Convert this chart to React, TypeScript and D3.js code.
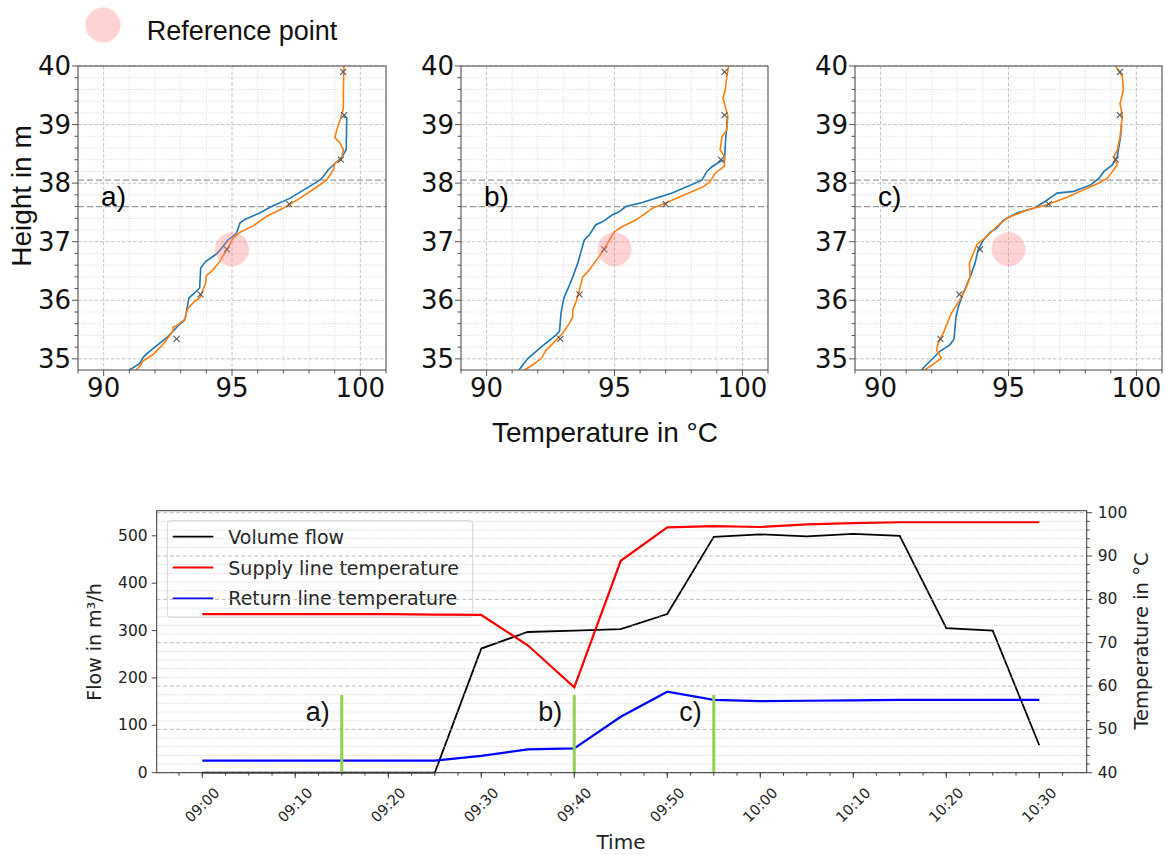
import React from 'react';
import * as d3 from 'd3';

// ---------- Top panels: temperature profiles (T in °C, height in m) ----------
const panelLabels = ['a)', 'b)', 'c)'];
const sensorHeights = [39.9, 39.16, 38.4, 37.64, 36.87, 36.1, 35.34];
const sensorTempsA = [99.33, 99.37, 99.24, 97.23, 94.8, 93.77, 92.84];
const sensorTempsB = [99.3, 99.3, 99.16, 97.0, 94.6, 93.63, 92.88];
const sensorTempsC = [99.36, 99.35, 99.19, 96.57, 93.89, 93.08, 92.34];
const referencePoint = { temp: 95, height: 36.87 };
const layerBoundaries = [38.05, 37.6];

const blueA: [number, number][] = [
  [91.0, 34.81], [91.4, 34.92], [91.55, 35.03], [91.66, 35.08], [92.5, 35.38], [92.96, 35.59],
  [93.15, 35.66], [93.19, 35.72], [93.32, 36.04], [93.42, 36.08], [93.67, 36.18], [93.74, 36.21],
  [93.78, 36.55], [93.97, 36.66], [94.39, 36.79], [94.58, 36.88], [94.84, 37.03], [95.17, 37.14],
  [95.31, 37.32], [95.5, 37.38], [96.08, 37.49], [96.54, 37.6], [97.25, 37.74], [98.42, 38.05],
  [98.55, 38.11], [98.75, 38.23], [98.95, 38.31], [99.27, 38.44], [99.45, 38.57], [99.47, 39.11],
  [99.34, 39.14],
];
const orangeA: [number, number][] = [
  [91.26, 34.81], [91.46, 34.9], [91.52, 34.96], [91.91, 35.07], [92.3, 35.24], [92.7, 35.47],
  [92.7, 35.54], [92.89, 35.58], [93.15, 35.67], [93.22, 35.78], [93.28, 35.86], [93.54, 35.98],
  [93.74, 36.04], [93.87, 36.18], [93.97, 36.29], [94.0, 36.42], [94.26, 36.52], [94.52, 36.66],
  [94.71, 36.8], [94.91, 36.95], [95.04, 37.06], [95.31, 37.16], [95.82, 37.27], [96.34, 37.43],
  [96.99, 37.57], [97.64, 37.74], [98.29, 37.93], [98.68, 38.05], [98.82, 38.14], [98.95, 38.23],
  [99.01, 38.34], [99.27, 38.42], [99.34, 38.57], [99.21, 38.68], [99.01, 38.78], [99.08, 38.91],
  [99.21, 39.08], [99.34, 39.28], [99.34, 39.59], [99.36, 40.0],
];
const blueB: [number, number][] = [
  [91.27, 34.81], [91.42, 34.9], [91.62, 35.01], [92.07, 35.18], [92.72, 35.41], [92.85, 35.47],
  [92.91, 35.78], [92.98, 35.95], [93.04, 36.06], [93.24, 36.26], [93.37, 36.4], [93.56, 36.63],
  [93.82, 37.03], [94.02, 37.12], [94.27, 37.29], [94.53, 37.34], [94.92, 37.46], [95.18, 37.51],
  [95.44, 37.6], [96.09, 37.67], [97.25, 37.83], [98.42, 38.05], [98.61, 38.2], [98.81, 38.28],
  [99.13, 38.37], [99.3, 38.4], [99.35, 38.79], [99.39, 38.96], [99.4, 39.1],
];
const orangeB: [number, number][] = [
  [91.49, 34.81], [91.81, 34.9], [92.14, 35.01], [92.33, 35.15], [92.72, 35.32], [92.98, 35.44],
  [93.24, 35.61], [93.37, 35.72], [93.37, 35.84], [93.5, 35.98], [93.63, 36.18], [93.76, 36.4],
  [94.02, 36.52], [94.4, 36.75], [94.66, 36.92], [94.99, 37.17], [95.31, 37.26], [95.83, 37.37],
  [96.48, 37.57], [97.0, 37.66], [97.9, 37.83], [98.48, 37.94], [98.74, 38.03], [98.94, 38.17],
  [99.3, 38.29], [99.3, 38.45], [99.13, 38.57], [99.2, 38.79], [99.39, 38.91], [99.43, 39.14],
  [99.33, 39.31], [99.24, 39.45], [99.33, 39.59], [99.39, 39.82], [99.46, 40.0],
];
const blueC: [number, number][] = [
  [91.6, 34.81], [91.79, 34.9], [92.32, 35.13], [92.71, 35.24], [92.87, 35.34], [92.95, 35.72],
  [93.04, 35.89], [93.23, 36.12], [93.5, 36.4], [93.69, 36.63], [93.82, 36.87], [94.02, 37.03],
  [94.28, 37.16], [94.54, 37.23], [94.8, 37.37], [95.33, 37.49], [95.98, 37.57], [96.37, 37.67],
  [96.9, 37.83], [97.55, 37.86], [98.21, 37.97], [98.53, 38.08], [98.73, 38.2], [99.06, 38.31],
  [99.25, 38.45], [99.38, 38.79], [99.42, 39.0],
];
const orangeC: [number, number][] = [
  [91.73, 34.81], [92.38, 35.01], [92.19, 35.15], [92.25, 35.27], [92.45, 35.44], [92.77, 35.78],
  [93.1, 36.01], [93.36, 36.23], [93.5, 36.4], [93.47, 36.63], [93.76, 36.95], [94.15, 37.09],
  [94.54, 37.26], [94.93, 37.4], [95.72, 37.54], [96.5, 37.63], [97.29, 37.76], [97.81, 37.86],
  [98.47, 37.99], [98.86, 38.08], [99.25, 38.31], [99.12, 38.45], [99.25, 38.57], [99.36, 38.79],
  [99.45, 39.14], [99.36, 39.36], [99.49, 39.59], [99.45, 39.82], [99.25, 39.96], [99.19, 40.0],
];
const tempTicks = [90, 95, 100];
const heightTicks = [35, 36, 37, 38, 39, 40];

// ---------- Bottom chart: time series ----------
const timeLabels = ['09:00', '09:05', '09:10', '09:15', '09:20', '09:25', '09:30', '09:35', '09:40', '09:45',
  '09:50', '09:55', '10:00', '10:05', '10:10', '10:15', '10:20', '10:25', '10:30'];
const volumeFlow = [0, 0, 0, 0, 0, 0, 262, 297, 300, 303, 335, 498, 503, 499, 504, 500, 305, 300, 58];
const supplyTemp = [76.6, 76.6, 76.6, 76.6, 76.6, 76.5, 76.4, 69.4, 59.7, 88.9, 96.6, 96.9, 96.7, 97.3, 97.6, 97.8, 97.8, 97.8, 97.8];
const returnTemp = [42.8, 42.8, 42.8, 42.8, 42.8, 42.8, 43.9, 45.4, 45.6, 52.9, 58.7, 56.8, 56.5, 56.6, 56.7, 56.8, 56.8, 56.8, 56.8];
const snapshotTimes = ['09:15', '09:40', '09:55'];
const snapshotMarkerHeight = 164;
const flowTicks = [0, 100, 200, 300, 400, 500];
const tempAxisTicks = [40, 50, 60, 70, 80, 90, 100];
const seriesNames = ['Volume flow', 'Supply line temperature', 'Return line temperature'];

const DEJAVU = "'DejaVu Sans', sans-serif";
const ARIAL = "'Liberation Sans', Arial, sans-serif";
const BLUE = '#1f77b4';
const ORANGE = '#ff7f0e';

type PanelProps = {
  idx: number; left: number; width: number; top: number; bottom: number;
  blue: [number, number][]; orange: [number, number][]; sensors: number[]; label: string;
};

function ProfilePanel({ idx, left, width, top, bottom, blue, orange, sensors, label }: PanelProps) {
  const x = d3.scaleLinear().domain([89, 101]).range([left, left + width]);
  const y = d3.scaleLinear().domain([34.81, 40]).range([bottom, top]);
  const line = d3.line<[number, number]>().x((d) => x(d[0])).y((d) => y(d[1]));
  const minorX = d3.range(89, 101.01, 1);
  const minorY = d3.range(35, 40.001, 0.2).map((v) => Math.round(v * 10) / 10);
  const clipId = `clip-panel-${idx}`;
  return (
    <g>
      <defs>
        <clipPath id={clipId}>
          <rect x={left} y={top} width={width} height={bottom - top} />
        </clipPath>
      </defs>
      {minorX.map((v) => (
        <line key={'gx' + v} x1={x(v)} x2={x(v)} y1={top} y2={bottom}
          stroke={tempTicks.includes(v) ? '#b5b5b5' : '#d0d0d0'} strokeWidth={0.8}
          strokeDasharray={tempTicks.includes(v) ? '3.5,2' : '1,1.5'} />
      ))}
      {minorY.map((v) => (
        <line key={'gy' + v} x1={left} x2={left + width} y1={y(v)} y2={y(v)}
          stroke={heightTicks.includes(v) ? '#b5b5b5' : '#d0d0d0'} strokeWidth={0.8}
          strokeDasharray={heightTicks.includes(v) ? '3.5,2' : '1,1.5'} />
      ))}
      {layerBoundaries.map((h) => (
        <line key={'lb' + h} x1={left} x2={left + width} y1={y(h)} y2={y(h)}
          stroke="#9a9a9a" strokeWidth={1.2} strokeDasharray="6,3" />
      ))}
      <g clipPath={`url(#${clipId})`}>
        <path d={line(blue) || ''} fill="none" stroke={BLUE} strokeWidth={1.6} />
        <path d={line(orange) || ''} fill="none" stroke={ORANGE} strokeWidth={1.6} />
        {sensors.map((t, i) => {
          const cx = x(t), cy = y(sensorHeights[i]);
          return (
            <g key={'s' + i} stroke="#555" strokeWidth={1.1}>
              <line x1={cx - 3} x2={cx + 3} y1={cy - 3} y2={cy + 3} />
              <line x1={cx - 3} x2={cx + 3} y1={cy + 3} y2={cy - 3} />
            </g>
          );
        })}
        <circle cx={x(referencePoint.temp)} cy={y(referencePoint.height)} r={17}
          fill="rgb(255,120,120)" fillOpacity={0.33} />
      </g>
      <text x={x(89.9)} y={y(37.77)} fontFamily={ARIAL} fontSize={28} dominantBaseline="central">{label}</text>
      <rect x={left} y={top} width={width} height={bottom - top} fill="none" stroke="#444" strokeWidth={1} />
      {minorX.map((v) => (
        <line key={'tx' + v} x1={x(v)} x2={x(v)} y1={bottom} y2={bottom + (tempTicks.includes(v) ? 6 : 3.5)}
          stroke="#444" strokeWidth={0.9} />
      ))}
      {tempTicks.map((v) => (
        <text key={'lx' + v} x={x(v)} y={bottom + 27} textAnchor="middle" fontFamily={DEJAVU} fontSize={26} fill="#111">{v}</text>
      ))}
      {minorY.map((v) => (
        <line key={'ty' + v} x1={left} x2={left - (heightTicks.includes(v) ? 6 : 3.5)} y1={y(v)} y2={y(v)}
          stroke="#444" strokeWidth={0.9} />
      ))}
      {heightTicks.map((v) => (
        <text key={'ly' + v} x={left - 7} y={y(v)} textAnchor="end" dominantBaseline="central"
          fontFamily={DEJAVU} fontSize={26} fill="#111">{v}</text>
      ))}
    </g>
  );
}

function BottomChart() {
  const parse = d3.timeParse('%H:%M');
  const parseS = d3.timeParse('%H:%M:%S');
  const left = 156.7, right = 1086.7, top = 510.7, bottom = 772.7;
  const x = d3.scaleTime().domain([parseS('08:55:06') as Date, parseS('10:35:06') as Date]).range([left, right]);
  const yFlow = d3.scaleLinear().domain([0, 553]).range([bottom, top]);
  const yTemp = d3.scaleLinear().domain([40, 100]).range([bottom, 512.7]);
  const times = timeLabels.map((t) => parse(t) as Date);
  const flowLine = d3.line<number>().x((_, i) => x(times[i])).y((d) => yFlow(d));
  const tempLine = d3.line<number>().x((_, i) => x(times[i])).y((d) => yTemp(d));
  const majorX = d3.timeMinute.every(10)!.range(parseS('08:55:06') as Date, parseS('10:35:07') as Date);
  const minorX = d3.range(-2.5, 95, 2.5).map((m) => new Date((parse('09:00') as Date).getTime() + m * 60000));
  const fmt = d3.timeFormat('%H:%M');
  const minorTemp = d3.range(40, 100.01, 2);
  const legendColors = ['#000', '#ff0000', '#0000ff'];
  const lgX = 167.3, lgY = 520.7, lgW = 305.4, lgH = 96.6;
  return (
    <g>
      <path d={flowLine(volumeFlow) || ''} fill="none" stroke="#000" strokeWidth={1.8} />
      <rect x={lgX} y={lgY} width={lgW} height={lgH} rx={3} fill="#fff" fillOpacity={0.8} stroke="#d5d5d5" strokeWidth={1} />
      {seriesNames.map((name, i) => {
        const cy = 536.7 + i * 30.8;
        return (
          <g key={name}>
            <line x1={172.7} x2={213.3} y1={cy} y2={cy} stroke={legendColors[i]} strokeWidth={1.8} />
            <text x={228.3} y={cy} dominantBaseline="central" fontFamily={DEJAVU} fontSize={19} fill="#222">{name}</text>
          </g>
        );
      })}
      {minorTemp.map((v) => (
        <line key={'g' + v} x1={left} x2={right} y1={yTemp(v)} y2={yTemp(v)}
          stroke={tempAxisTicks.includes(v) ? '#aaaaaa' : '#c4c4c4'} strokeWidth={0.8}
          strokeDasharray={tempAxisTicks.includes(v) ? '4,2.5' : '1,1.5'} />
      ))}
      <path d={tempLine(supplyTemp) || ''} fill="none" stroke="#ff0000" strokeWidth={2.2} />
      <path d={tempLine(returnTemp) || ''} fill="none" stroke="#0000ff" strokeWidth={2.2} />
      {snapshotTimes.map((t, i) => {
        const xx = x(parse(t) as Date);
        return (
          <g key={t}>
            <line x1={xx} x2={xx} y1={yFlow(0)} y2={yFlow(snapshotMarkerHeight)} stroke="#92d050" strokeWidth={3} />
            <text x={xx - 12} y={yFlow(snapshotMarkerHeight) + 17} textAnchor="end" dominantBaseline="central"
              fontFamily={ARIAL} fontSize={27} fill="#111">{panelLabels[i]}</text>
          </g>
        );
      })}
      <rect x={left} y={top} width={right - left} height={bottom - top} fill="none" stroke="#333" strokeWidth={1} />
      {minorX.map((d, i) => (
        <line key={'mx' + i} x1={x(d)} x2={x(d)} y1={bottom} y2={bottom + 3} stroke="#333" strokeWidth={0.9} />
      ))}
      {majorX.map((d, i) => (
        <g key={'MX' + i}>
          <line x1={x(d)} x2={x(d)} y1={bottom} y2={bottom + 5.5} stroke="#333" strokeWidth={0.9} />
          <text transform={`translate(${x(d)},805) rotate(-45)`} textAnchor="middle" dominantBaseline="central"
            fontFamily={DEJAVU} fontSize={14.5} fill="#222">{fmt(d)}</text>
        </g>
      ))}
      {flowTicks.map((v) => (
        <g key={'fl' + v}>
          <line x1={left} x2={left - 5} y1={yFlow(v)} y2={yFlow(v)} stroke="#333" strokeWidth={0.9} />
          <text x={left - 9} y={yFlow(v)} textAnchor="end" dominantBaseline="central" fontFamily={DEJAVU}
            fontSize={15.5} fill="#222">{v}</text>
        </g>
      ))}
      {minorTemp.map((v) => (
        <line key={'rt' + v} x1={right} x2={right + (tempAxisTicks.includes(v) ? 5.5 : 3)} y1={yTemp(v)} y2={yTemp(v)}
          stroke="#333" strokeWidth={0.9} />
      ))}
      {tempAxisTicks.map((v) => (
        <text key={'rl' + v} x={right + 11} y={yTemp(v)} dominantBaseline="central" fontFamily={DEJAVU}
          fontSize={15.5} fill="#222">{v}</text>
      ))}
      <text transform="translate(101,642) rotate(-90)" textAnchor="middle" fontFamily={DEJAVU} fontSize={19} fill="#222">Flow in m³/h</text>
      <text transform="translate(1148,641) rotate(-90)" textAnchor="middle" fontFamily={DEJAVU} fontSize={19.5} fill="#222">Temperature in °C</text>
      <text x={621} y={849} textAnchor="middle" fontFamily={DEJAVU} fontSize={20} fill="#222">Time</text>
    </g>
  );
}

export default function App() {
  const panels = [
    { left: 78, width: 308, blue: blueA, orange: orangeA, sensors: sensorTempsA },
    { left: 461, width: 307, blue: blueB, orange: orangeB, sensors: sensorTempsB },
    { left: 855, width: 307, blue: blueC, orange: orangeC, sensors: sensorTempsC },
  ];
  return (
    <svg width={1165} height={855} style={{ position: 'absolute', left: 0, top: 0, background: '#fff' }}>
      <rect x={0} y={0} width={1165} height={855} fill="#fff" />
      <circle cx={103} cy={25} r={17.5} fill="rgb(255,120,120)" fillOpacity={0.33} />
      <text x={146.7} y={40} fontFamily={ARIAL} fontSize={27} fill="#111">Reference point</text>
      {panels.map((p, i) => (
        <ProfilePanel key={i} idx={i} left={p.left} width={p.width} top={66} bottom={370}
          blue={p.blue} orange={p.orange} sensors={p.sensors} label={panelLabels[i]} />
      ))}
      <text transform="translate(31,196) rotate(-90)" textAnchor="middle" fontFamily={ARIAL} fontSize={28} fill="#111">Height in m</text>
      <text x={605} y={442} textAnchor="middle" fontFamily={ARIAL} fontSize={28} fill="#111">Temperature in °C</text>
      <BottomChart />
    </svg>
  );
}
